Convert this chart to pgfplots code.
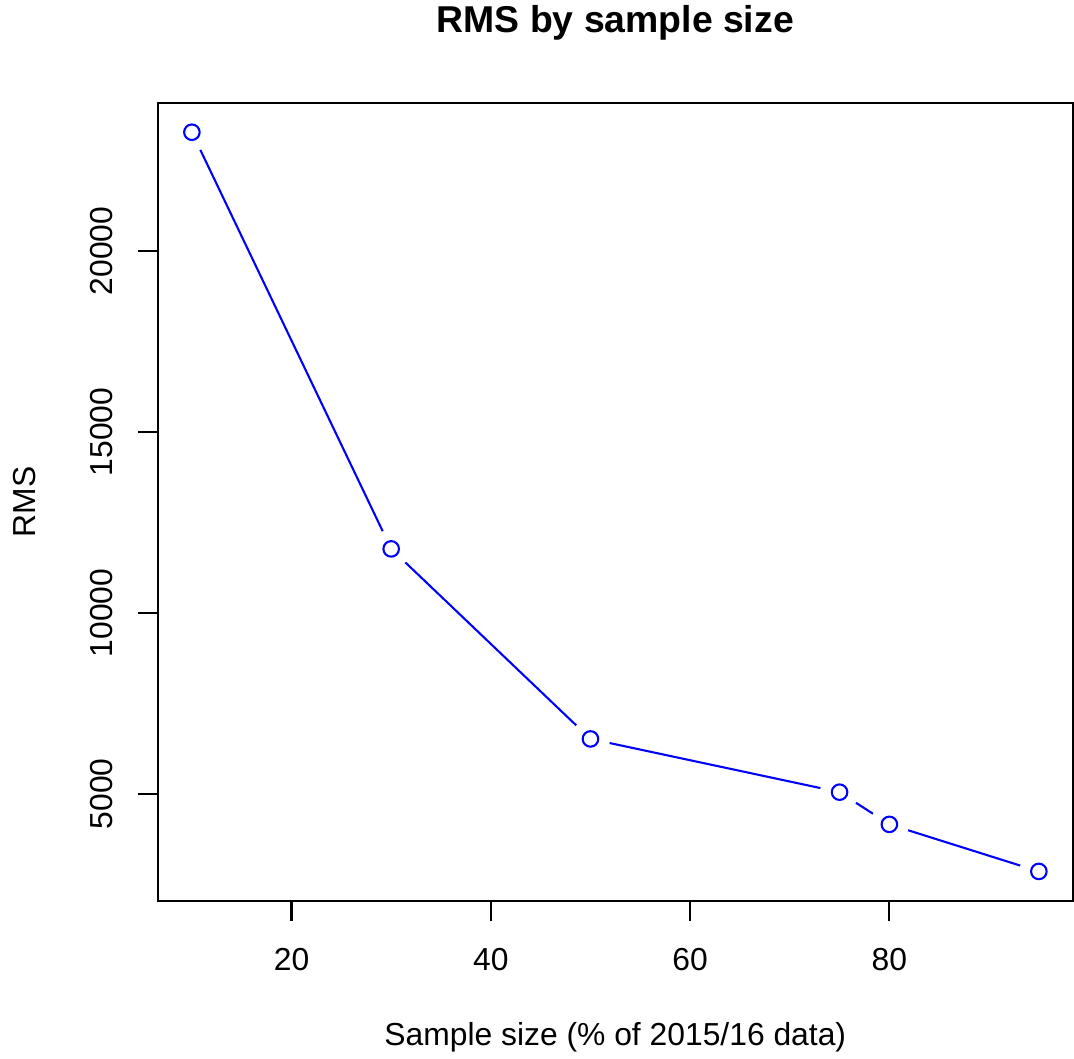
\documentclass[border=0pt]{standalone}
\usepackage{pgfplots}
\pgfplotsset{compat=1.18}
\usepackage{fontspec}
\setmainfont{Liberation Sans}
\begin{document}
\begin{tikzpicture}
\useasboundingbox (0,0) rectangle (386.64bp,381.24bp);
\begin{axis}[
  at={(56.88bp,56.88bp)}, anchor=south west,
  width=329.3bp, height=287.4bp, scale only axis,
  xmin=6.6, xmax=98.4, ymin=2043.2, ymax=24096.8,
  axis line style={line width=0.75bp},
  every tick/.style={black, line width=0.75bp},
  tick align=outside, major tick length=7.2bp,
  xtick pos=bottom, ytick pos=left,
  xtick={20,40,60,80}, ytick={5000,10000,15000,20000},
  scaled y ticks=false,
  /pgf/number format/assume math mode=true,
  /pgf/number format/set thousands separator={},
  tick label style={font=\fontsize{11.5}{14}\selectfont},
  xticklabel style={anchor=center, yshift=-13.86bp},
  yticklabel style={anchor=center, xshift=-13.3bp, rotate=90},
  clip=false,
]
\addplot[blue, line width=0.75bp] coordinates {(10,23280) (30,11770) (50,6520) (75,5050) (80,4160) (95,2860)};
\addplot[only marks, draw=white, fill=white, mark=*, mark size=6.84bp, mark options={draw=white, fill=white}] coordinates {(10,23280) (30,11770) (50,6520) (75,5050) (80,4160) (95,2860)};
\addplot[only marks, blue, mark=o, mark size=2.8bp, mark options={draw=blue, line width=0.75bp}] coordinates {(10,23280) (30,11770) (50,6520) (75,5050) (80,4160) (95,2860)};
\end{axis}
\node[font=\fontsize{13.5}{16}\selectfont\bfseries, anchor=base] at (221.5bp,369.4bp) {RMS by sample size};
\node[font=\fontsize{11.5}{14}\selectfont, anchor=base] at (221.5bp,4.8bp) {Sample size (\% of 2015/16 data)};
\node[font=\fontsize{11.5}{14}\selectfont, rotate=90, anchor=base] at (12.6bp,200.6bp) {RMS};
\end{tikzpicture}
\end{document}
